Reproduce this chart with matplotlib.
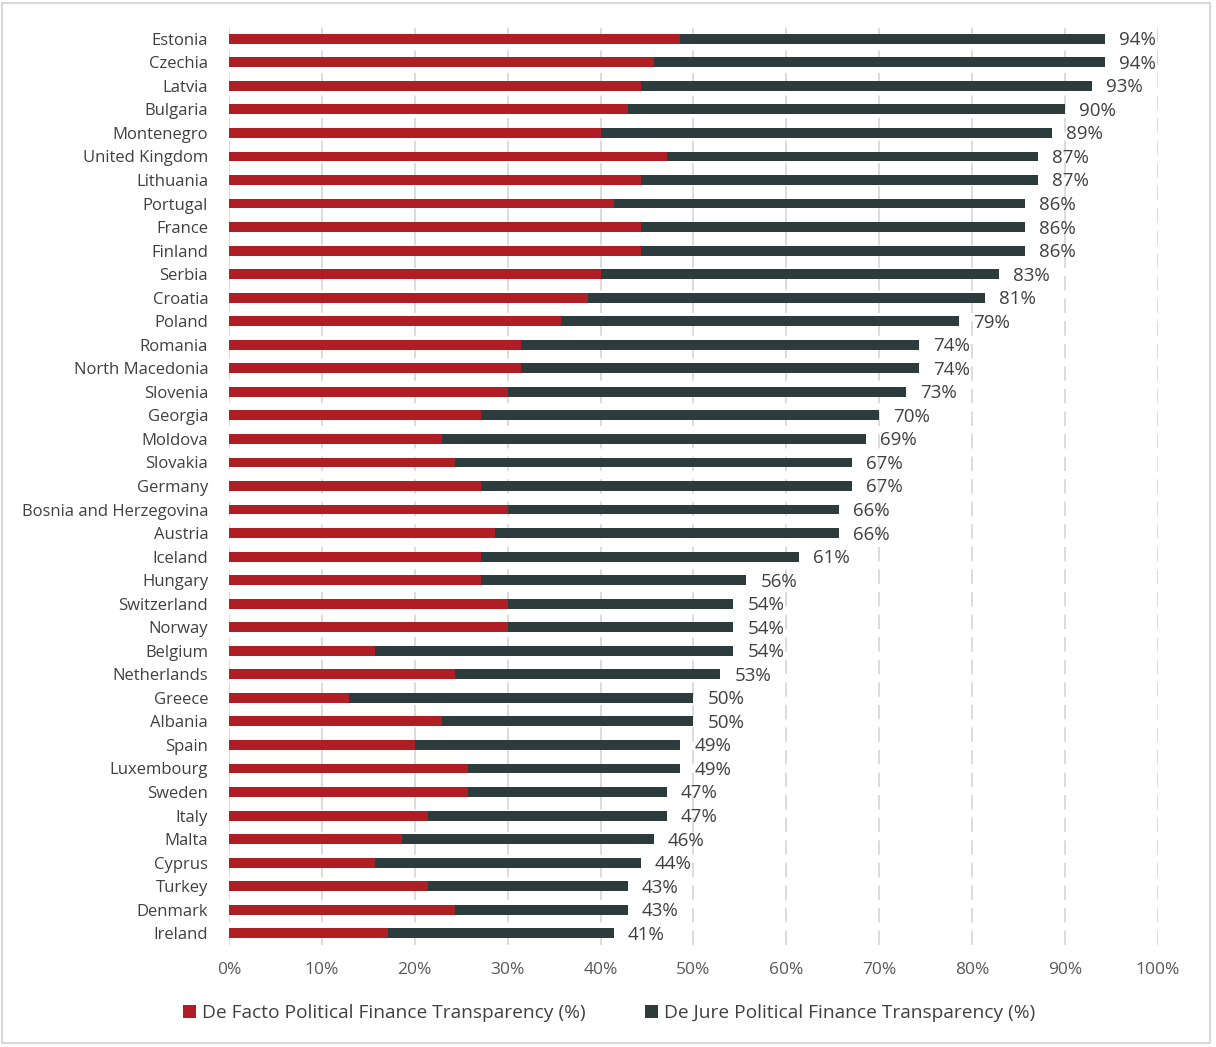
import matplotlib
matplotlib.use("Agg")
import matplotlib.pyplot as plt
from matplotlib.patches import Rectangle, Patch

countries = ["Estonia", "Czechia", "Latvia", "Bulgaria", "Montenegro", "United Kingdom",
             "Lithuania", "Portugal", "France", "Finland", "Serbia", "Croatia", "Poland",
             "Romania", "North Macedonia", "Slovenia", "Georgia", "Moldova", "Slovakia",
             "Germany", "Bosnia and Herzegovina", "Austria", "Iceland", "Hungary",
             "Switzerland", "Norway", "Belgium", "Netherlands", "Greece", "Albania", "Spain",
             "Luxembourg", "Sweden", "Italy", "Malta", "Cyprus", "Turkey", "Denmark", "Ireland"]

de_facto = [48.6, 45.7, 44.3, 42.9, 40.0, 47.1, 44.3, 41.4, 44.3, 44.3, 40.0, 38.6, 35.7,
            31.4, 31.4, 30.0, 27.1, 22.9, 24.3, 27.1, 30.0, 28.6, 27.1, 27.1, 30.0, 30.0,
            15.7, 24.3, 12.9, 22.9, 20.0, 25.7, 25.7, 21.4, 18.6, 15.7, 21.4, 24.3, 17.1]

de_jure = [94.3, 94.3, 92.9, 90.0, 88.6, 87.1, 87.1, 85.7, 85.7, 85.7, 82.9, 81.4, 78.6,
           74.3, 74.3, 72.9, 70.0, 68.6, 67.1, 67.1, 65.7, 65.7, 61.4, 55.7, 54.3, 54.3,
           54.3, 52.9, 50.0, 50.0, 48.6, 48.6, 47.1, 47.1, 45.7, 44.3, 42.9, 42.9, 41.4]

x_ticks = [0, 10, 20, 30, 40, 50, 60, 70, 80, 90, 100]
legend_labels = ["De Facto Political Finance Transparency (%)",
                 "De Jure Political Finance Transparency (%)"]

RED = "#AE1E24"
DARK = "#2C3C3D"
TXT = "#404040"
FONT = "Open Sans"

fig = plt.figure(figsize=(12.16, 10.47), dpi=100)
ax = fig.add_axes([0.1883, 0.0974, 0.7640, 0.8768])

ypos = list(range(len(countries)))
ax.barh(ypos, de_jure, height=0.42, color=DARK, zorder=2)
ax.barh(ypos, de_facto, height=0.42, color=RED, zorder=3)

for y, v in zip(ypos, de_jure):
    ax.text(v + 1.5, y + 0.06, f"{round(v):.0f}%", va="center", ha="left",
            fontsize=13.5, color=TXT, family=FONT)

ax.set_xlim(0, 100)
ax.set_ylim(len(countries) - 0.5, -0.5)
ax.set_yticks(ypos)
ax.set_yticklabels(countries, family=FONT, fontsize=12, color=TXT)
ax.set_xticks(x_ticks)
ax.set_xticklabels([f"{t}%" for t in x_ticks], family=FONT, fontsize=12.5, color="#595959")
ax.tick_params(axis="both", length=0)
ax.tick_params(axis="y", pad=15)
ax.tick_params(axis="x", pad=12)
for s in ax.spines.values():
    s.set_visible(False)
ax.xaxis.grid(True, color="#D9D9D9", linewidth=1.3, linestyle=(0, (8, 4.5)), zorder=0)
ax.set_axisbelow(True)

handles = [Patch(facecolor=RED), Patch(facecolor=DARK)]
fig.legend(handles, legend_labels, loc="center", bbox_to_anchor=(0.501, 0.0325), ncol=2,
           frameon=False, prop={"family": FONT, "size": 13.75}, handlelength=0.7,
           handleheight=0.7, handletextpad=0.3, columnspacing=3.1, labelcolor=TXT)

fig.patches.append(Rectangle((0.002, 0.004), 0.993, 0.993, transform=fig.transFigure,
                             fill=False, edgecolor="#D9D9D9", linewidth=1.5))

fig.savefig("out.png", dpi=100)
